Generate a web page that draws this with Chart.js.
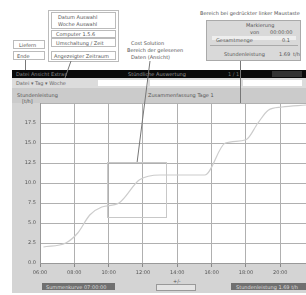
<!DOCTYPE html>
<html><head><meta charset="utf-8">
<script src="https://cdn.jsdelivr.net/npm/chart.js@4"></script>
<style>
html,body{margin:0;padding:0;background:#fff;}
body{width:306px;height:295px;position:relative;overflow:hidden;font-family:"DejaVu Sans",sans-serif;}
.a{position:absolute;box-sizing:border-box;}
.t{position:absolute;font-size:5px;line-height:6px;color:#555;white-space:nowrap;}
.box{position:absolute;box-sizing:border-box;border:1px solid #bbb;background:#fff;}
</style></head>
<body>
<!-- annotation boxes (top) -->
<div class="box" style="left:48px;top:10px;width:71px;height:52px;"></div>
<div class="box" style="left:51px;top:12px;width:65px;height:17px;"></div>
<div class="t" style="left:58px;top:14px;">Datum Auswahl</div>
<div class="t" style="left:58px;top:21px;">Woche Auswahl</div>
<div class="box" style="left:51px;top:30px;width:65px;height:8px;"></div>
<div class="t" style="left:56px;top:31px;">Computer 1.5.6</div>
<div class="box" style="left:51px;top:38px;width:65px;height:9px;"></div>
<div class="t" style="left:56px;top:40px;">Umschaltung / Zeit</div>
<div class="box" style="left:51px;top:51px;width:65px;height:9px;"></div>
<div class="t" style="left:54px;top:53px;">Angezeigter Zeitraum</div>
<div class="box" style="left:13px;top:40px;width:32px;height:9px;"></div>
<div class="t" style="left:19px;top:42px;">Liefern</div>
<div class="box" style="left:13px;top:51px;width:32px;height:9px;"></div>
<div class="t" style="left:17px;top:53px;">Ende</div>
<div class="t" style="left:131px;top:40px;">Cost Solution</div>
<div class="t" style="left:127px;top:47px;">Bereich der gelesenen</div>
<div class="t" style="left:131px;top:54px;">Daten (Ansicht)</div>
<div class="t" style="left:200px;top:10px;">Bereich bei gedrückter linker Maustaste</div>
<div class="a" style="left:206px;top:20px;width:95px;height:41px;background:#d9d9d9;border:1px solid #aaa;"></div>
<div class="t" style="left:246px;top:22px;">Markierung</div>
<div class="t" style="left:250px;top:29px;">von</div>
<div class="t" style="left:270px;top:29px;">00:00:00</div>
<div class="a" style="left:212px;top:36px;width:84px;height:4px;background:#eee;"></div>
<div class="t" style="left:216px;top:37px;">Gesamtmenge</div>
<div class="t" style="left:282px;top:37px;">0.1</div>
<div class="a" style="left:210px;top:45px;width:88px;height:1px;background:#aaa;"></div>
<div class="t" style="left:224px;top:51px;">Stundenleistung</div>
<div class="t" style="left:279px;top:51px;">1.69</div>
<div class="t" style="left:293px;top:51px;">t/h</div>

<!-- black bar -->
<div class="a" style="left:12px;top:70px;width:294px;height:8px;background:#0a0a0a;"></div>
<div class="t" style="left:16px;top:71px;color:#888;">Datei Ansicht Extras</div>
<div class="t" style="left:128px;top:71px;color:#999;">Stündliche Auswertung</div>
<div class="t" style="left:228px;top:71px;color:#777;">1 / 1</div>
<div class="a" style="left:272px;top:71px;width:30px;height:6px;background:#333;"></div>
<!-- toolbar -->
<div class="a" style="left:12px;top:78px;width:294px;height:10px;background:#dcdcdc;"></div>
<div class="t" style="left:16px;top:80px;color:#666;">Datei ▾ Tag ▾ Woche</div>
<div class="a" style="left:98px;top:80px;width:50px;height:6px;background:#fff;"></div>
<div class="a" style="left:150px;top:80px;width:90px;height:6px;background:#fff;"></div>
<div class="a" style="left:243px;top:80px;width:59px;height:6px;background:#fff;"></div>
<!-- panel -->
<div class="a" style="left:12px;top:88px;width:294px;height:205px;background:#d4d4d4;"></div>
<div class="a" style="left:12px;top:88px;width:294px;height:15px;background:#cbcbcb;"></div>
<div class="t" style="left:17px;top:92px;">Stundenleistung</div>
<div class="t" style="left:22px;top:98px;">[t/h]</div>
<div class="t" style="left:148px;top:92px;">Zusammenfassung Tage 1</div>
<!-- bottom bar -->
<div class="a" style="left:42px;top:283px;width:73px;height:7px;background:#707070;"></div>
<div class="t" style="left:46px;top:284px;color:#ddd;">Summenkurve 07:00:00</div>
<div class="a" style="left:156px;top:284px;width:40px;height:7px;border:1px solid #999;background:#e4e4e4;"></div>
<div class="t" style="left:173px;top:278px;">+/-</div>
<div class="a" style="left:231px;top:283px;width:75px;height:7px;background:#707070;"></div>
<div class="t" style="left:236px;top:284px;color:#ddd;">Stundenleistung 1.69 t/h</div>

<canvas id="c" class="a" style="left:12px;top:96px;width:294px;height:185px;"></canvas>

<svg class="a" style="left:0;top:0;pointer-events:none;" width="306" height="295">
  <line x1="25.5" y1="60" x2="25.5" y2="70" stroke="#777" stroke-width="1"/>
  <line x1="71" y1="61" x2="65" y2="78" stroke="#777" stroke-width="1"/>
  <line x1="150" y1="61" x2="137" y2="163" stroke="#777" stroke-width="1"/>
  <line x1="240.5" y1="61" x2="240.5" y2="103" stroke="#777" stroke-width="1"/>
  <rect x="107.5" y="162.5" width="59" height="55" fill="none" stroke="#c8c8c8" stroke-width="1"/>
</svg>

<script>
// x axis tick labels (hours)
const timeLabels = ['06:00','08:00','10:00','12:00','14:00','16:00','18:00','20:00'];
// cumulative curve: positions along time axis (tick units) and values
const timePos = [0.1, 0.75, 1.1, 1.45, 1.8, 2.3, 2.9, 3.5, 4.8, 5.4, 6.0, 6.35, 6.65, 7.05, 7.75];
const cumValues = [2.0, 2.5, 3.75, 6.0, 7.0, 7.5, 10.4, 11.0, 11.0, 15.0, 15.4, 17.5, 19.1, 19.5, 19.75];
const yMin = 0, yMax = 20, yStep = 2.5;

const whiteArea = {
  id:'whiteArea',
  beforeDraw(chart){
    const {ctx, chartArea:a} = chart;
    ctx.save(); ctx.fillStyle='#fff';
    ctx.fillRect(a.left, a.top, a.right-a.left, a.bottom-a.top);
    ctx.restore();
  }
};

new Chart(document.getElementById('c'), {
  type:'line',
  data:{ datasets:[{
    data: timePos.map((x,i)=>({x, y:cumValues[i]})),
    borderColor:'#cccccc', borderWidth:1.2, pointRadius:0,
    cubicInterpolationMode:'monotone', fill:false
  }]},
  options:{
    responsive:false, animation:false, maintainAspectRatio:false,
    devicePixelRatio:1,
    layout:{padding:0},
    plugins:{legend:{display:false}, tooltip:{enabled:false}},
    scales:{
      x:{ type:'linear', min:0, max:7.75,
        afterBuildTicks(s){ s.ticks = s.ticks.filter(t=>Number.isInteger(t.value)); },
        afterFit(s){ s.height = 18; },
        ticks:{ stepSize:1, autoSkip:false, maxRotation:0, padding:3,
          color:'#555', font:{size:5, family:'DejaVu Sans'},
          callback:v=>timeLabels[v] ?? '' },
        grid:{ color:'#b0b0b0', lineWidth:1, tickLength:4, tickColor:'#888' },
        border:{ color:'#999' }
      },
      y:{ min:yMin, max:yMax,
        afterFit(s){ s.width = 28; },
        ticks:{ stepSize:yStep, padding:4, color:'#555', font:{size:5, family:'DejaVu Sans'},
          callback:v=> v===yMax ? '' : v.toFixed(1) },
        grid:{ color:'#b0b0b0', lineWidth:1, drawTicks:false },
        border:{ color:'#999' }
      }
    }
  },
  plugins:[whiteArea]
});
</script>
</body></html>
